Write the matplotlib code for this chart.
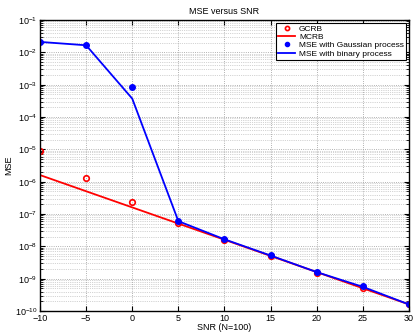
import matplotlib
matplotlib.use('Agg')
import matplotlib.pyplot as plt
from matplotlib.ticker import LogLocator, NullFormatter

# data
snr = [-10, -5, 0, 5, 10, 15, 20, 25, 30]
gcrb = [9.0e-6, 1.27e-6, 2.3e-7, 5.3e-8, 1.6e-8, 5.0e-9, 1.55e-9, 5.0e-10, 1.6e-10]
mcrb = [1.6e-6, 5.06e-7, 1.6e-7, 5.06e-8, 1.6e-8, 5.06e-9, 1.6e-9, 5.06e-10, 1.6e-10]
mse_gauss = [2.1e-2, 1.65e-2, 8.5e-4, 6.0e-8, 1.7e-8, 5.3e-9, 1.6e-9, 5.8e-10, 1.6e-10]
mse_binary = [2.1e-2, 1.65e-2, 3.7e-4, 6.0e-8, 1.65e-8, 5.2e-9, 1.6e-9, 5.6e-10, 1.6e-10]

plt.rcParams['font.family'] = 'Liberation Sans'
plt.rcParams['font.size'] = 6.5

fig = plt.figure(figsize=(4.15, 3.33), dpi=100)
ax = fig.add_axes([0.0964, 0.066, 0.889, 0.874])

ax.semilogy(snr, gcrb, 'o', color='red', markerfacecolor='none', markersize=4,
            markeredgewidth=1.2, label='GCRB')
ax.semilogy(snr, mcrb, '-', color='red', linewidth=1.3, label='MCRB')
ax.semilogy(snr, mse_gauss, '.', color='blue', markersize=8, label='MSE with Gaussian process')
ax.semilogy(snr, mse_binary, '-', color='blue', linewidth=1.3, label='MSE with binary process')

ax.set_xlim(-10, 30)
ax.set_ylim(1e-10, 1e-1)
ax.set_xticks([-10, -5, 0, 5, 10, 15, 20, 25, 30])
ax.yaxis.set_major_locator(LogLocator(base=10, numticks=20))
ax.yaxis.set_minor_locator(LogLocator(base=10, subs=range(2, 10), numticks=20))
ax.yaxis.set_minor_formatter(NullFormatter())
ax.tick_params(which='both', direction='in', top=True, right=True)
ax.tick_params(which='major', length=3.5, pad=2)
ax.tick_params(which='minor', length=2)

ax.grid(True, which='major', linestyle=':', color='#999999', linewidth=0.6)
ax.grid(True, which='minor', axis='y', linestyle=':', color='#aaaaaa', linewidth=0.5)

for s in ax.spines.values():
    s.set_linewidth(1.0)

ax.set_title('MSE versus SNR', fontsize=6.5, pad=4)
ax.set_xlabel('SNR (N=100)', labelpad=0)
ax.set_ylabel('MSE', labelpad=1)

leg = ax.legend(loc='upper right', fontsize=6, fancybox=False, framealpha=1,
                edgecolor='black', borderpad=0.25, labelspacing=0.05, handlelength=2.0,
                handletextpad=0.5, borderaxespad=0.35, markerscale=0.75)
leg.get_frame().set_linewidth(0.8)

fig.savefig('out.png', dpi=100)
